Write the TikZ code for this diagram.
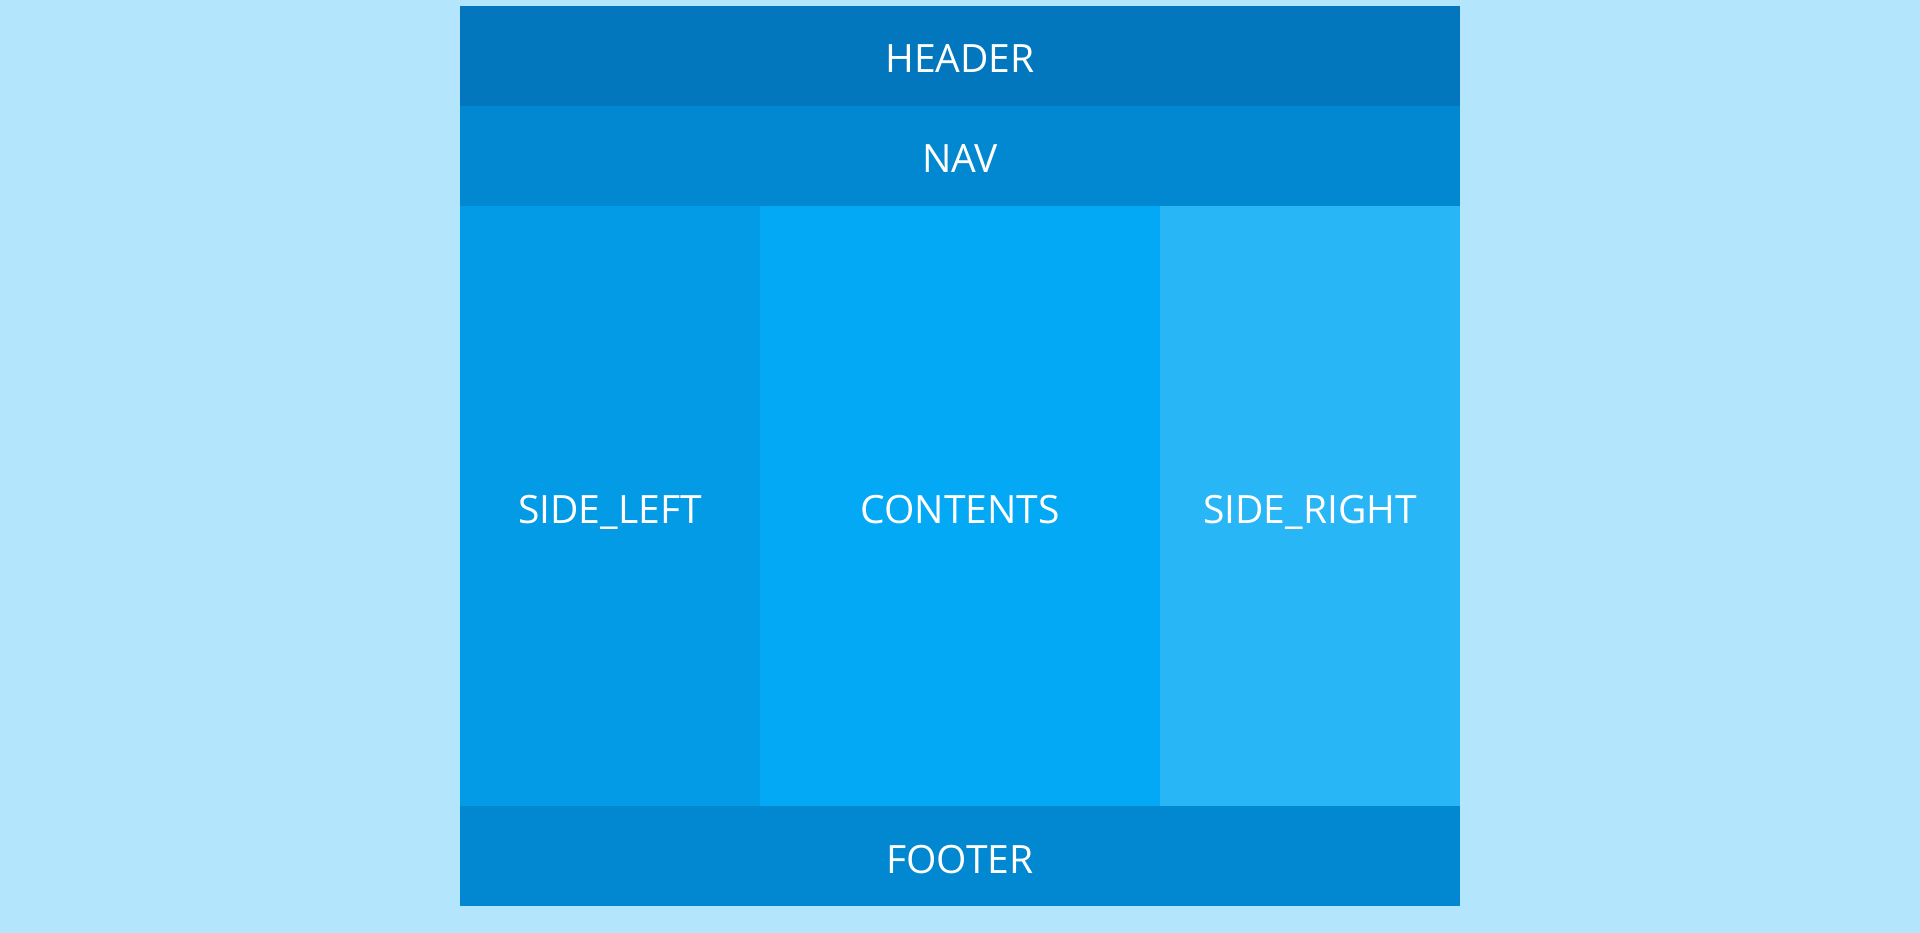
\documentclass[tikz,border=0pt]{standalone}
\usepackage{fontspec}
\setmainfont{Open Sans}
\usetikzlibrary{positioning}
\definecolor{pagebg}{HTML}{B3E5FC}
\definecolor{headerc}{HTML}{0277BD}
\definecolor{navc}{HTML}{0288D1}
\definecolor{leftc}{HTML}{039BE5}
\definecolor{contentc}{HTML}{03A9F4}
\definecolor{rightc}{HTML}{29B6F6}

\begin{document}
\begin{tikzpicture}[x=1pt,y=1pt]
      \tikzstyle{area}=[inner sep=0pt, outer sep=0pt, text=white, text height=34pt, text depth=0pt, font=\fontsize{39}{42}\selectfont];
      \tikzstyle{band}=[area, minimum width=1000pt, minimum height=100pt];
      \tikzstyle{column}=[area, minimum height=600pt];

      \fill [pagebg] (0,0) rectangle (1920,-933);
      \useasboundingbox (0,0) rectangle (1920,-933);

      \node (header) at (960,-56)[band, fill=headerc]{HEADER};
      \node (nav) [below=0pt of header, band, fill=navc]{NAV};
      \node (sideleft) at (nav.south west)[column, anchor=north west, minimum width=300pt, fill=leftc]{SIDE\_LEFT};
      \node (contents) [right=0pt of sideleft, column, minimum width=400pt, fill=contentc]{CONTENTS};
      \node (sideright) [right=0pt of contents, column, minimum width=300pt, fill=rightc]{SIDE\_RIGHT};
      \node (footer) [below=0pt of contents, band, fill=navc]{FOOTER};

    \end{tikzpicture}
\end{document}
